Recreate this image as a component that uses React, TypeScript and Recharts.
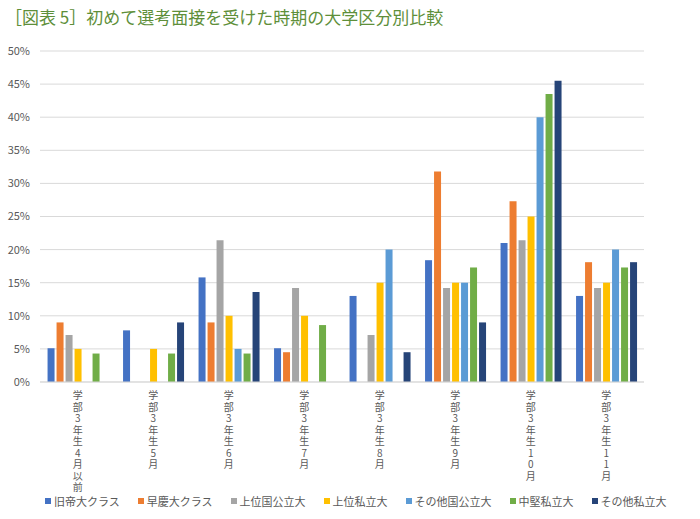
import React from 'react';
import { BarChart, Bar, XAxis, YAxis, CartesianGrid, Legend } from 'recharts';

if (typeof document !== 'undefined') {
  document.body.style.margin = '0';
}

const categories = [
  '学部3年生4月以前',
  '学部3年生5月',
  '学部3年生6月',
  '学部3年生7月',
  '学部3年生8月',
  '学部3年生9月',
  '学部3年生10月',
  '学部3年生11月',
];

const seriesNames = ['旧帝大クラス', '早慶大クラス', '上位国公立大', '上位私立大', 'その他国公立大', '中堅私立大', 'その他私立大'];
const seriesColors = ['#4472C4', '#ED7D31', '#A5A5A5', '#FFC000', '#5B9BD5', '#70AD47', '#264478'];

const kyuutei = [5.1, 7.8, 15.8, 5.1, 13.0, 18.4, 21.0, 13.0];
const soukei = [9.0, 0, 9.0, 4.5, 0, 31.8, 27.3, 18.1];
const jouiKokkou = [7.1, 0, 21.4, 14.2, 7.1, 14.2, 21.4, 14.2];
const jouiShiritsu = [5.0, 5.0, 10.0, 10.0, 15.0, 15.0, 25.0, 15.0];
const sonotaKokkou = [0, 0, 5.0, 0, 20.0, 15.0, 40.0, 20.0];
const chuuken = [4.3, 4.3, 4.3, 8.6, 0, 17.3, 43.5, 17.3];
const sonotaShiritsu = [0, 9.0, 13.6, 0, 4.5, 9.0, 45.5, 18.1];

const yTicks = [0, 5, 10, 15, 20, 25, 30, 35, 40, 45, 50];

const seriesValues = [kyuutei, soukei, jouiKokkou, jouiShiritsu, sonotaKokkou, chuuken, sonotaShiritsu];
const data = categories.map((c, i) => {
  const row: Record<string, any> = { name: c };
  seriesNames.forEach((s, k) => {
    row[s] = seriesValues[k][i];
  });
  return row;
});

const FONT = '"Noto Sans CJK JP", "Noto Sans", sans-serif';

const VerticalTick = (props: any) => {
  const { x, y, payload } = props;
  const chars = Array.from(String(payload.value));
  return (
    <text x={x} y={y} textAnchor="middle" fill="#595959" fontSize={10} fontFamily={FONT}>
      {chars.map((c, i) => (
        <tspan key={i} x={x} dy={i === 0 ? 17 : 11.5}>
          {c}
        </tspan>
      ))}
    </text>
  );
};

const LegendContent = () => (
  <div
    style={{
      display: 'flex',
      justifyContent: 'flex-start',
      paddingLeft: 45,
      gap: 18,
      fontFamily: FONT,
      fontSize: 11,
      color: '#595959',
    }}
  >
    {seriesNames.map((s, i) => (
      <div key={s} style={{ display: 'flex', alignItems: 'center' }}>
        <span style={{ display: 'inline-block', width: 6, height: 6, background: seriesColors[i], marginRight: 3 }} />
        <span>{s}</span>
      </div>
    ))}
  </div>
);

export default function App() {
  return (
    <div style={{ position: 'relative', width: 700, height: 519, background: '#fff' }}>
      <div
        style={{
          position: 'absolute',
          left: 5,
          top: 4,
          fontFamily: FONT,
          fontSize: 17,
          color: '#5E8F3A',
          whiteSpace: 'nowrap',
        }}
      >
        ［図表 5］初めて選考面接を受けた時期の大学区分別比較
      </div>
      <BarChart
        width={700}
        height={519}
        data={data}
        margin={{ top: 51, right: 56, left: 0, bottom: 6 }}
        barCategoryGap="10%"
        barGap={2}
      >
        <CartesianGrid vertical={false} stroke="#d9d9d9" />
        <XAxis
          dataKey="name"
          interval={0}
          tick={<VerticalTick />}
          tickLine={false}
          axisLine={{ stroke: '#d9d9d9' }}
          tickSize={0}
          tickMargin={0}
          height={111}
        />
        <YAxis
          domain={[0, 50]}
          ticks={yTicks}
          tickFormatter={(v: number) => `${v}%`}
          tick={{ fill: '#595959', fontSize: 11, fontFamily: FONT }}
          axisLine={false}
          tickLine={false}
          tickSize={0}
          tickMargin={10}
          width={40}
        />
        <Legend
          verticalAlign="bottom"
          height={20}
          wrapperStyle={{ left: 0, width: 700 }}
          content={<LegendContent />}
        />
        {seriesNames.map((s, i) => (
          <Bar key={s} dataKey={s} fill={seriesColors[i]} isAnimationActive={false} />
        ))}
      </BarChart>
    </div>
  );
}
